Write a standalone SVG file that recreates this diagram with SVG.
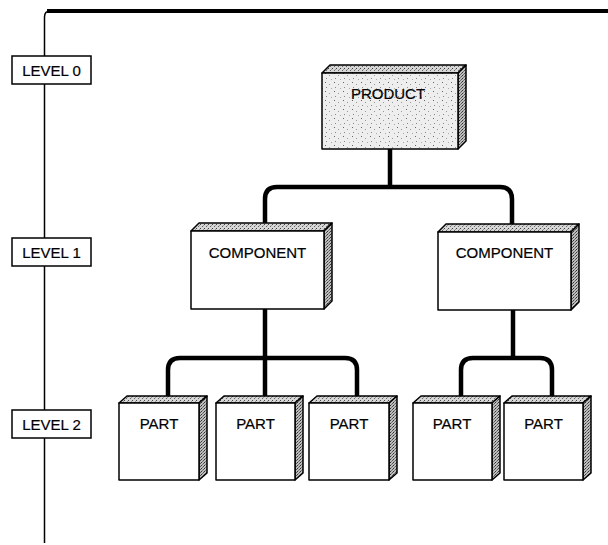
<svg xmlns="http://www.w3.org/2000/svg" width="608" height="545" viewBox="0 0 608 545">
<style>
  .face { fill: #ffffff; stroke: #000; stroke-width: 1.5; stroke-linejoin: round; }
  .pface { fill: url(#stipLight); stroke: #000; stroke-width: 1.5; stroke-linejoin: round; }
  .top { fill: url(#stipTop); stroke: #000; stroke-width: 1.5; stroke-linejoin: round; }
  .side { fill: url(#stipSide); stroke: #000; stroke-width: 1.5; stroke-linejoin: round; }
  .lbl { font-family: "Liberation Sans", Arial, sans-serif; font-size: 15px; fill: #000; stroke: #000; stroke-width: 0.2; text-anchor: middle; }
  .lvl { fill: #fff; stroke: #000; stroke-width: 1.5; }
  .conn { fill: none; stroke: #000; stroke-width: 4.5; }
</style>
<defs>
  <pattern id="stipLight" width="9" height="9" patternUnits="userSpaceOnUse">
    <rect width="9" height="9" fill="#eeeeee"/>
    <rect x="1" y="1" width="1" height="1" fill="#666"/>
    <rect x="5" y="3" width="1" height="1" fill="#999"/>
    <rect x="2" y="6" width="1" height="1" fill="#888"/>
    <rect x="7" y="7" width="1" height="1" fill="#aaa"/>
  </pattern>
  <pattern id="stipTop" width="4" height="4" patternUnits="userSpaceOnUse">
    <rect width="4" height="4" fill="#d6d6d6"/>
    <rect x="0" y="0" width="1" height="1" fill="#444"/>
    <rect x="2" y="2" width="1" height="1" fill="#666"/>
    <rect x="3" y="1" width="1" height="1" fill="#999"/>
  </pattern>
  <pattern id="stipSide" width="3" height="3" patternUnits="userSpaceOnUse">
    <rect width="3" height="3" fill="#bdbdbd"/>
    <rect x="0" y="0" width="1" height="1" fill="#333"/>
    <rect x="2" y="1" width="1" height="1" fill="#555"/>
    <rect x="1" y="2" width="1" height="1" fill="#777"/>
  </pattern>
</defs>
<rect width="608" height="545" fill="#ffffff"/>

<g id="frame">
  <path d="M44.5 543 V17 Q44.5 11 50 11" fill="none" stroke="#000" stroke-width="1.5"/>
  <path d="M47 11 H608" fill="none" stroke="#000" stroke-width="4"/>
</g>

<g id="connectors">
  <path class="conn" d="M390 149 V187"/>
  <path class="conn" d="M265 224 V199 Q265 187 277 187 H500 Q512 187 512 199 V225"/>
  <path class="conn" d="M265 309 V397"/>
  <path class="conn" d="M168 397 V370 Q168 358 180 358 H345 Q357 358 357 370 V397"/>
  <path class="conn" d="M513 309 V358"/>
  <path class="conn" d="M461 396 V370 Q461 358 473 358 H540 Q552 358 552 370 V396"/>
</g>

<g id="level0">
  <rect class="lvl" x="12" y="56" width="79" height="28"/>
  <text class="lbl" x="51.5" y="75.5">LEVEL 0</text>
</g>
<g id="level1">
  <rect class="lvl" x="12" y="238" width="79" height="28"/>
  <text class="lbl" x="51.5" y="257.5">LEVEL 1</text>
</g>
<g id="level2">
  <rect class="lvl" x="12" y="410" width="79" height="28"/>
  <text class="lbl" x="51.5" y="429.5">LEVEL 2</text>
</g>

<g id="product">
  <polygon class="top" points="322,73 330,65 466,65 458,73"/>
  <polygon class="side" points="458,73 466,65 466,141 458,149"/>
  <rect class="pface" x="322" y="73" width="136" height="76"/>
  <text class="lbl" x="388" y="99">PRODUCT</text>
</g>

<g id="component1">
  <polygon class="top" points="191,231 199,223 332,223 324,231"/>
  <polygon class="side" points="324,231 332,223 332,301 324,309"/>
  <rect class="face" x="191" y="231" width="133" height="78"/>
  <text class="lbl" x="257.5" y="258">COMPONENT</text>
</g>

<g id="component2">
  <polygon class="top" points="438,232 446,224 579,224 571,232"/>
  <polygon class="side" points="571,232 579,224 579,302 571,310"/>
  <rect class="face" x="438" y="232" width="133" height="78"/>
  <text class="lbl" x="504.5" y="258">COMPONENT</text>
</g>

<g id="part1">
  <polygon class="top" points="119,403 127,396 207,396 199,403"/>
  <polygon class="side" points="199,403 207,396 207,473 199,480"/>
  <rect class="face" x="119" y="403" width="80" height="77"/>
  <text class="lbl" x="159" y="429">PART</text>
</g>
<g id="part2">
  <polygon class="top" points="216,403 224,396 303,396 295,403"/>
  <polygon class="side" points="295,403 303,396 303,473 295,480"/>
  <rect class="face" x="216" y="403" width="79" height="77"/>
  <text class="lbl" x="255.5" y="429">PART</text>
</g>
<g id="part3">
  <polygon class="top" points="309,403 317,396 397,396 389,403"/>
  <polygon class="side" points="389,403 397,396 397,473 389,480"/>
  <rect class="face" x="309" y="403" width="80" height="77"/>
  <text class="lbl" x="349" y="429">PART</text>
</g>
<g id="part4">
  <polygon class="top" points="413,403 421,396 500,396 492,403"/>
  <polygon class="side" points="492,403 500,396 500,473 492,480"/>
  <rect class="face" x="413" y="403" width="79" height="77"/>
  <text class="lbl" x="452" y="429">PART</text>
</g>
<g id="part5">
  <polygon class="top" points="504,403 512,396 591,396 583,403"/>
  <polygon class="side" points="583,403 591,396 591,473 583,480"/>
  <rect class="face" x="504" y="403" width="79" height="77"/>
  <text class="lbl" x="543.5" y="429">PART</text>
</g>
</svg>
